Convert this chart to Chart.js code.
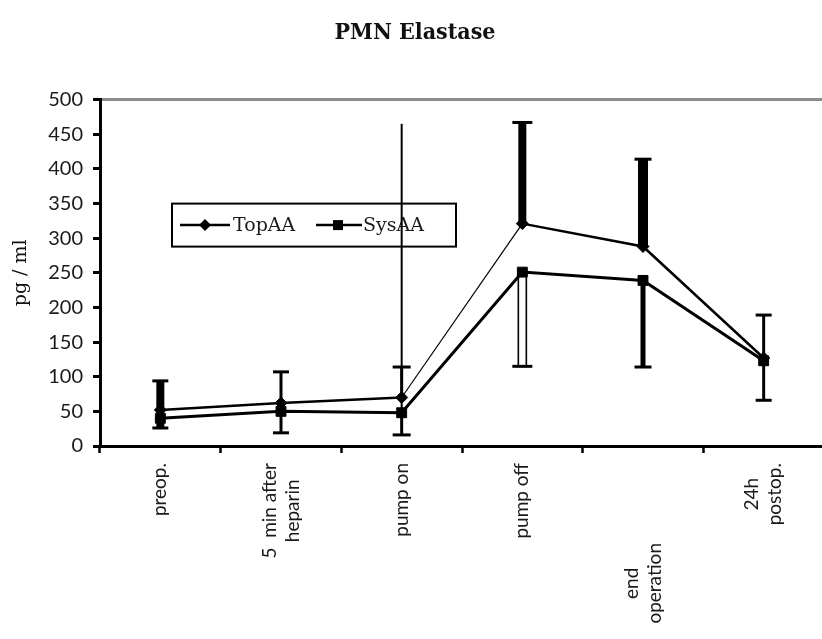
<!DOCTYPE html>
<html>
<head>
<meta charset="utf-8">
<script src="https://cdn.jsdelivr.net/npm/chart.js@4.4.1/dist/chart.umd.min.js"></script>
<style>
  html, body { margin:0; padding:0; background:#fff; overflow:hidden; }
</style>
</head>
<body>
<canvas id="chart" width="832" height="639"></canvas>
<script>
// ── Data ─────────────────────────────────────────────────────
const CATEGORIES   = ['preop.', ['5  min after', 'heparin'], 'pump on', 'pump off', ['end', 'operation'], ['24h', 'postop.']];
const TOP_AA       = [52, 62, 70, 321, 288, 127];
const SYS_AA       = [40, 50, 48, 251, 239, 123];
const TOP_AA_UPPER = [94, 107, 114, 467, 414, 189];
const SYS_AA_LOWER = [26, 19, 16, 115, 114, 66];
const SYS_AA_UPPER = [null, null, 465, null, null, null];
const Y_TICKS      = [0, 50, 100, 150, 200, 250, 300, 350, 400, 450, 500];

// ── Error bar styling (per category) ─────────────────────────
const BAR_W_TOP  = [8, 3, 3, 8, 10, 3];
const BAR_W_SYS  = [8, 3, 3, 8, 5, 3];
const CAP_W      = [16, 16, 18, 20, 17, 16];
const HOLLOW_SYS = [false, false, false, true, false, false];
const LABEL_DROP = [0, 0, 0, 0, 80, 0];

const TICK_FONT  = '19px Lato';
const SERIF      = '"DejaVu Serif", serif';

// error bars drawn over the lines
const errorBars = {
  id: 'errorBars',
  afterDatasetsDraw(chart) {
    const { ctx, scales: { x, y } } = chart;
    ctx.save();
    ctx.fillStyle = '#000';
    ctx.strokeStyle = '#000';
    const bar = (i, from, to, w, cap, hollow) => {
      if (to == null) return;
      const px = x.getPixelForValue(i);
      const y0 = y.getPixelForValue(from), y1 = y.getPixelForValue(to);
      const top = Math.min(y0, y1), h = Math.abs(y1 - y0);
      if (hollow) {
        ctx.lineWidth = 1.6;
        ctx.strokeRect(px - w / 2, top, w, h);
      } else {
        ctx.fillRect(px - w / 2, top, w, h);
      }
      if (cap) {
        ctx.lineWidth = 3;
        ctx.beginPath();
        ctx.moveTo(px - cap / 2, y1);
        ctx.lineTo(px + cap / 2, y1);
        ctx.stroke();
      }
    };
    TOP_AA.forEach((v, i) => {
      bar(i, v, TOP_AA_UPPER[i], BAR_W_TOP[i], CAP_W[i]);
      bar(i, SYS_AA[i], SYS_AA_LOWER[i], BAR_W_SYS[i], CAP_W[i], HOLLOW_SYS[i]);
      bar(i, SYS_AA[i], SYS_AA_UPPER[i], 2, 0);
    });
    ctx.restore();
  }
};

// boxed legend inside the plot, under the data
const boxLegend = {
  id: 'boxLegend',
  beforeDatasetsDraw(chart) {
    const { ctx, chartArea } = chart;
    const L = chartArea.left + 72, T = chartArea.top + 104, W = 284, H = 43;
    const cy = T + H / 2;
    ctx.save();
    ctx.fillStyle = '#fff';
    ctx.fillRect(L, T, W, H);
    ctx.lineWidth = 2;
    ctx.strokeStyle = '#000';
    ctx.strokeRect(L, T, W, H);

    ctx.lineWidth = 2.5;
    ctx.beginPath();
    ctx.moveTo(L + 8, cy);   ctx.lineTo(L + 58, cy);
    ctx.moveTo(L + 144, cy); ctx.lineTo(L + 190, cy);
    ctx.stroke();

    ctx.fillStyle = '#000';
    // diamond
    const dx = L + 33;
    ctx.beginPath();
    ctx.moveTo(dx - 6, cy); ctx.lineTo(dx, cy - 6); ctx.lineTo(dx + 6, cy); ctx.lineTo(dx, cy + 6);
    ctx.closePath();
    ctx.fill();
    // square
    ctx.fillRect(L + 161, cy - 5, 10, 10);

    ctx.font = '19px ' + SERIF;
    ctx.fillStyle = '#1a1a1a';
    ctx.textBaseline = 'middle';
    ctx.textAlign = 'left';
    const ds = chart.data.datasets;
    ctx.fillText(ds[0].label, L + 61, cy + 1);
    ctx.fillText(ds[1].label, L + 191, cy + 1);
    ctx.restore();
  }
};

// vertical category labels, lines centred on each other
const xLabels = {
  id: 'xLabels',
  afterDraw(chart) {
    const { ctx, scales: { x } } = chart;
    ctx.save();
    ctx.font = TICK_FONT;
    ctx.fillStyle = '#1a1a1a';
    ctx.textAlign = 'center';
    ctx.textBaseline = 'middle';
    CATEGORIES.forEach((lab, i) => {
      const lines = [].concat(lab);
      const cx = x.getPixelForValue(i);
      const maxW = Math.max(...lines.map(l => ctx.measureText(l).width));
      const lh = 23;
      lines.forEach((l, j) => {
        const lx = cx + (j - (lines.length - 1) / 2) * lh;
        const ly = x.top + 17 + LABEL_DROP[i] + maxW / 2;
        ctx.save();
        ctx.translate(lx, ly);
        ctx.rotate(-Math.PI / 2);
        ctx.fillText(l, 0, 0);
        ctx.restore();
      });
    });
    ctx.restore();
  }
};

new Chart(document.getElementById('chart'), {
  type: 'line',
  data: {
    labels: CATEGORIES,
    datasets: [
      { label: 'TopAA', data: TOP_AA,
        borderColor: '#000', backgroundColor: '#000', borderWidth: 2.5,
        pointStyle: 'rectRot', pointRadius: 6, pointBorderWidth: 1,
        segment: { borderWidth: c => c.p0DataIndex === 2 ? 1.2 : 2.5 } },
      { label: 'SysAA', data: SYS_AA,
        borderColor: '#000', backgroundColor: '#000', borderWidth: 3,
        pointStyle: 'rect', pointRadius: 7, pointBorderWidth: 1 },
    ]
  },
  options: {
    responsive: false,
    animation: false,
    layout: { padding: { left: 0, right: 2, top: 0, bottom: 0 } },
    plugins: {
      legend: { display: false },
      tooltip: { enabled: false },
      title: {
        display: true, text: 'PMN Elastase', color: '#111',
        font: { family: '"DejaVu Serif Condensed", ' + SERIF, size: 23, weight: 'bold' },
        padding: { top: 19, bottom: 53 }
      }
    },
    scales: {
      x: {
        offset: true,
        grid: { offset: true, drawOnChartArea: false, tickLength: 7, tickWidth: 2.5, tickColor: '#000' },
        border: { color: '#000', width: 3 },
        ticks: { display: false },
        afterFit: s => { s.height = 193; }
      },
      y: {
        min: 0, max: 500,
        afterBuildTicks: s => { s.ticks = Y_TICKS.map(v => ({ value: v })); },
        grid: {
          color: c => (c.tick && c.tick.value === 500) ? '#8a8a8a' : 'rgba(0,0,0,0)',
          lineWidth: 3, tickLength: 7, tickWidth: 3, tickColor: '#000'
        },
        border: { color: '#000', width: 3 },
        ticks: { color: '#1a1a1a', padding: 10, font: { family: 'Lato', size: 20 } },
        title: {
          display: true, text: 'pg / ml', color: '#111',
          font: { family: SERIF, size: 19 },
          padding: { top: 10, bottom: 0 }
        },
        afterFit: s => { s.width = 100; }
      }
    }
  },
  plugins: [boxLegend, errorBars, xLabels]
});
</script>
</body>
</html>
